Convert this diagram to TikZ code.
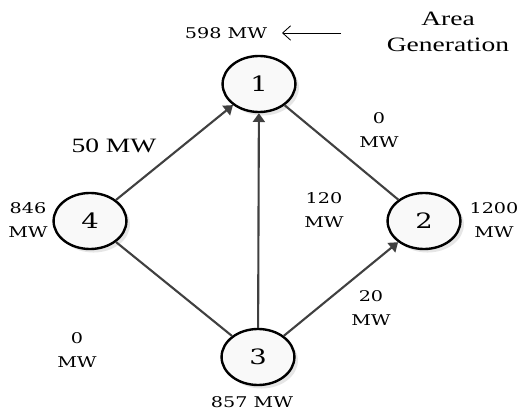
\documentclass[tikz,border=0pt]{standalone}
\usepackage{fontspec}
\setmainfont{Liberation Serif}
\newfontfamily\flowFont[FakeStretch=1.3]{DejaVu Serif}
\newfontfamily\titleFont[FakeStretch=1.35]{Liberation Serif}
\usetikzlibrary{arrows.meta,shadows,shapes.geometric}
\definecolor{lineGray}{RGB}{64,64,64}

\begin{document}
\begin{tikzpicture}[%%
  x=0.025cm,y=-0.025cm,%%
  lineStyle/.style={lineGray,line width=1.5pt,-{Triangle[length=2.2mm,width=3mm]}},%%
  plainLine/.style={lineGray,line width=1.5pt},%%
  busStyle/.style={draw,ellipse,line width=1.7pt,fill=gray!5,minimum width=1.82cm,
    minimum height=1.40cm,inner sep=0pt,font=\flowFont\fontsize{15}{17}\selectfont,
    drop shadow={shadow xshift=2.5pt,shadow yshift=-2.5pt,opacity=0.2}},%%
  flowStyle/.style={align=center,inner sep=0pt,font=\flowFont\fontsize{10.5}{17}\selectfont},%%
  titleStyle/.style={align=center,inner sep=0pt,font=\titleFont\fontsize{14.5}{18.5}\selectfont}
]
\useasboundingbox (0,0) rectangle (521,413);
%%
%% The buses.
\node[busStyle] (one)   at (259,84)  {1};
\node[busStyle] (two)   at (424,221) {2};
\node[busStyle] (three) at (258,357) {3};
\node[busStyle] (four)  at (90,221)  {4};
%%
%% The tie lines.
\draw[lineStyle] (four) -- (one);
\draw[lineStyle] (three) -- (one);
\draw[lineStyle] (three) -- (two);
\draw[plainLine] (one) -- (two);
\draw[plainLine] (four) -- (three);
%%
%% Area generation.
\node[flowStyle] (genOne)   at (226,33)  {598 MW};
\node[flowStyle] (genTwo)   at (494,220) {1200\\MW};
\node[flowStyle] (genThree) at (252,402) {857 MW};
\node[flowStyle] (genFour)  at (28,220)  {846\\MW};
\node[titleStyle] (areaGen) at (448,32)  {Area\\Generation};
\coordinate (genTail) at (341,33);
\coordinate (genHead) at (282,33);
\draw[black,line width=0.6pt,-{Straight Barb[length=2mm,width=3.6mm]}]
  (genTail) -- (genHead);
%%
%% Line flows.
\node[titleStyle] (flowFourOne)    at (114,146) {50 MW};
\node[flowStyle]  (flowOneTwo)     at (379,130) {0\\MW};
\node[flowStyle]  (flowThreeOne)   at (324,210) {120\\MW};
\node[flowStyle]  (flowFourThree)  at (77,350)  {0\\MW};
\node[flowStyle]  (flowThreeTwo)   at (371,308) {20\\MW};
\end{tikzpicture}
\end{document}
